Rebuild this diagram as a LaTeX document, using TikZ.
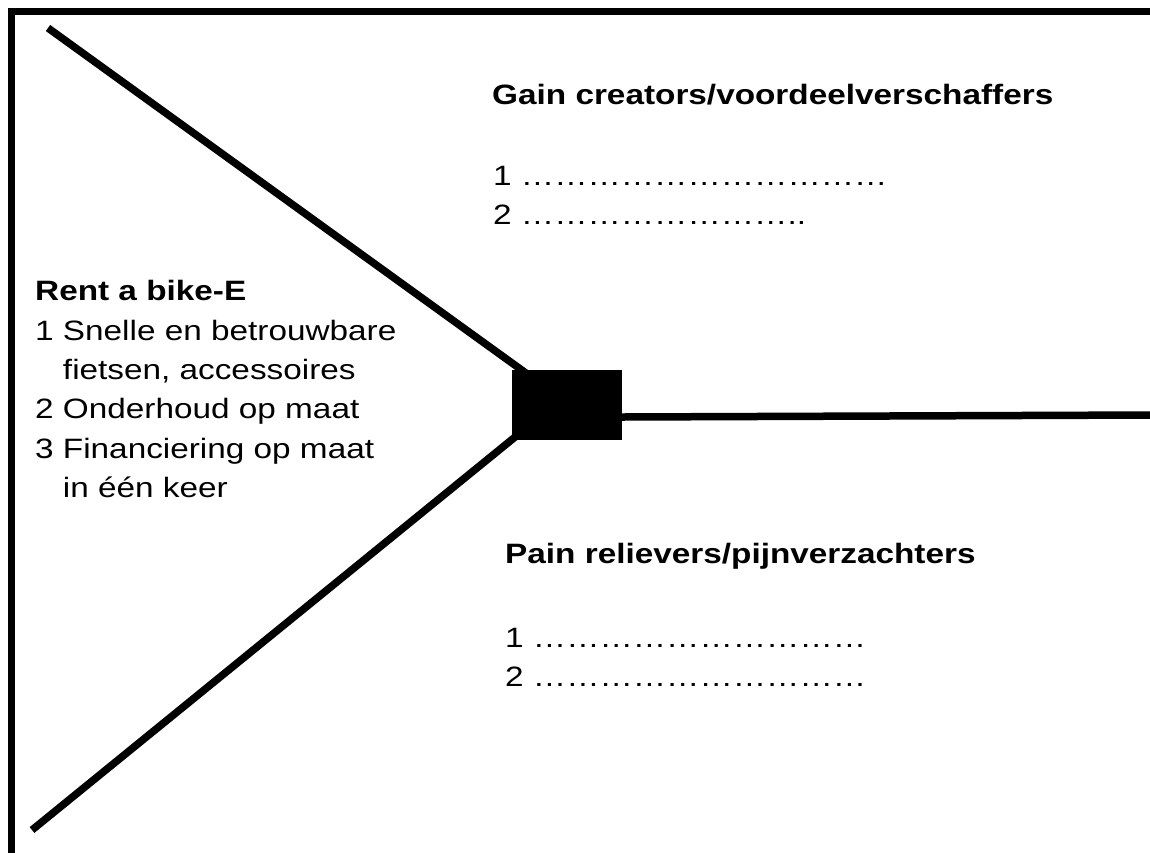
\documentclass[tikz,border=0pt]{standalone}
\usepackage{fontspec}
\setmainfont{Liberation Sans}[FakeStretch=1.19]
\newcommand\el{…}
\begin{document}
\begin{tikzpicture}[x=1pt,y=-1pt,
  thickline/.style={line width=7.5pt,line cap=butt},
  txt/.style={anchor=base west,inner sep=0pt,font=\fontsize{28}{39.5}\selectfont},
  hubbox/.style={fill=black,draw=none,minimum width=110pt,minimum height=70pt,inner sep=0pt}]
\useasboundingbox (0,0) rectangle (1150,852);
\clip (0,0) rectangle (1150,852);
% frame
\draw[line width=7pt] (11,11.5) rectangle (1170,880);
% hub and connectors
\coordinate (ul) at (48,28);
\coordinate (ll) at (32,830);
\coordinate (rr) at (1152,415);
\coordinate (hubul) at (530,376);
\coordinate (hubll) at (520,433);
\node[hubbox] (hub) at (567,405) {};
\draw[thickline] (ul) -- (hubul);
\draw[thickline] (ll) -- (hubll);
\draw[thickline] (hub.east |- 0,417) -- (rr);
\node[hubbox] at (hub.center) {};
% left text
\node[txt] (t0) at (35,300) {\textbf{Rent a bike-E}};
\node[txt] (t1) at (35,340) {1 Snelle en betrouwbare};
\node[txt] (t2) at (35,379) {\hphantom{1\ }fietsen, accessoires};
\node[txt] (t3) at (35,418) {2 Onderhoud op maat};
\node[txt] (t4) at (35,458) {3 Financiering op maat};
\node[txt] (t5) at (35,497) {\hphantom{1\ }in één keer};
% gain creators
\node[txt] (g0) at (492,104) {\textbf{Gain creators/voordeelverschaffers}};
\node[txt] (g1) at (493,185) {1 \el\el\el\el\el\el\el\el\el\el\el};
\node[txt] (g2) at (493,224) {2 \el\el\el\el\el\el\el\el..};
% pain relievers
\node[txt] (p0) at (505,563) {\textbf{Pain relievers/pijnverzachters}};
\node[txt] (p1) at (505,647) {1 \el\el\el\el\el\el\el\el\el\el};
\node[txt] (p2) at (505,686) {2 \el\el\el\el\el\el\el\el\el\el};
\end{tikzpicture}
\end{document}
